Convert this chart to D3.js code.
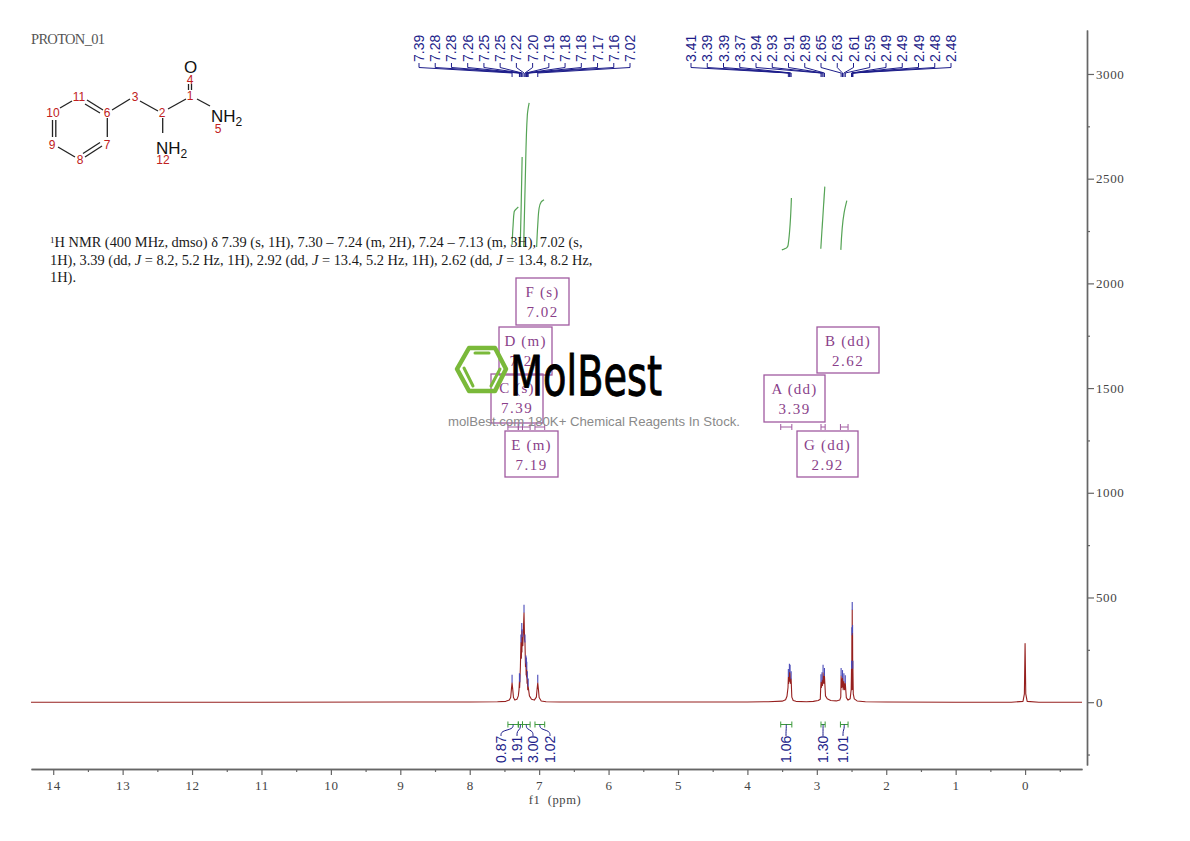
<!DOCTYPE html>
<html>
<head>
<meta charset="utf-8">
<title>PROTON_01</title>
<script src="https://cdn.jsdelivr.net/npm/d3@7"></script>
<style>
body { margin: 0; background: #fff; }
text { font-family: "Liberation Serif", serif; }
</style>
</head>
<body>
<div id="chart"></div>
<script>
// values
var xMajorTicks = [14,13,12,11,10,9,8,7,6,5,4,3,2,1,0];
var xMinorTicks = [13.5,12.5,11.5,10.5,9.5,8.5,7.5,6.5,5.5,4.5,3.5,2.5,1.5,0.5,-0.5];
var yMajorTicks = [0,500,1000,1500,2000,2500,3000];
var yMinorTicks = [-250,250,750,1250,1750,2250,2750];

var specPpm = [14.32,11,9,8,7.6,7.48,7.43,7.41,7.40,7.39,7.38,7.37,7.35,7.32,7.30,7.29,7.284,7.281,7.278,7.27,7.262,7.256,7.25,7.248,7.246,7.235,7.218,7.21,7.204,7.197,7.19,7.187,7.184,7.181,7.178,7.174,7.17,7.164,7.158,7.14,7.11,7.07,7.04,7.03,7.02,7.01,7.00,6.97,6.9,6.7,6,5,4,3.7,3.5,3.45,3.43,3.415,3.41,3.403,3.395,3.39,3.385,3.378,3.37,3.36,3.34,3.3,3.15,3.05,2.98,2.95,2.945,2.94,2.933,2.925,2.918,2.91,2.9,2.89,2.875,2.85,2.8,2.72,2.67,2.655,2.65,2.64,2.63,2.62,2.61,2.6,2.59,2.575,2.55,2.52,2.505,2.5,2.497,2.495,2.492,2.49,2.487,2.485,2.482,2.48,2.475,2.46,2.42,2.3,2,1,0.2,0.03,0.01,0.0,-0.01,-0.03,-0.2,-0.82];
var specInt = [0,0,1,1,2,4,10,22,60,93,60,22,10,14,30,60,100,70,95,170,285,210,340,240,310,270,427,300,285,170,185,130,175,120,155,90,110,60,75,30,14,10,24,62,93,60,22,6,2,1,1,1,1,2,5,12,28,70,120,90,145,100,140,90,110,24,8,4,2,4,8,14,60,95,70,105,80,140,90,125,30,16,8,6,10,24,125,70,115,60,100,60,90,22,10,16,60,160,60,320,100,440,100,330,60,160,40,16,6,2,1,0,0,4,40,280,40,4,0,0];

var pickGroupA = ["7.39","7.28","7.28","7.26","7.25","7.25","7.22","7.20","7.19","7.18","7.18","7.17","7.16","7.02"];
var pickPpmA = [7.39,7.284,7.278,7.262,7.25,7.246,7.218,7.204,7.19,7.184,7.178,7.17,7.158,7.02];
var pickIntA = [93,100,95,285,340,310,427,285,185,175,155,110,75,93];
var pickGroupB = ["3.41","3.39","3.39","3.37","2.94","2.93","2.91","2.89","2.65","2.63","2.61","2.59","2.49","2.49","2.49","2.48","2.48"];
var pickPpmB = [3.41,3.395,3.385,3.37,2.94,2.925,2.91,2.89,2.65,2.63,2.61,2.59,2.5,2.495,2.49,2.485,2.48];
var pickIntB = [120,145,140,110,95,105,140,125,125,115,100,90,160,320,440,330,160];

var integralCurves = [
  {ppm:[7.39,7.375,7.36,7.30], val:[2184,2279,2341,2365]},
  {ppm:[7.273,7.26,7.245], val:[2174,2351,2604]},
  {ppm:[7.223,7.20,7.17,7.144], val:[2174,2494,2804,2862]},
  {ppm:[7.036,7.02,7.0,6.97,6.93], val:[2174,2279,2360,2389,2399]},
  {ppm:[3.504,3.432,3.413,3.366], val:[2160,2171,2184,2408]},
  {ppm:[2.943,2.885], val:[2165,2462]},
  {ppm:[2.654,2.607,2.568], val:[2160,2337,2395]}
];
var integralFrom = [7.45,7.30,7.24,7.06,3.52,2.94,2.66];
var integralTo = [7.30,7.24,7.13,6.92,3.36,2.88,2.55];
var integralLabels = ["0.87","1.91","3.00","1.02","1.06","1.30","1.01"];

var multipletNames = ["F (s)","D (m)","C (s)","E (m)","B (dd)","A (dd)","G (dd)"];
var multipletShifts = ["7.02","7.27","7.39","7.19","2.62","3.39","2.92"];
var nmrLines = [
  [["1","sup"],["H NMR (400 MHz, dmso) δ 7.39 (s, 1H), 7.30 – 7.24 (m, 2H), 7.24 – 7.13 (m, 3H), 7.02 (s,",""]],
  [["1H), 3.39 (dd, ",""],["J","i"],[" = 8.2, 5.2 Hz, 1H), 2.92 (dd, ",""],["J","i"],[" = 13.4, 5.2 Hz, 1H), 2.62 (dd, ",""],["J","i"],[" = 13.4, 8.2 Hz,",""]],
  [["1H).",""]]
];

// layout of the annotation boxes and the molecule
var boxRects = [[516,278,53,47],[499,327,53,48],[491,374,52,49],[505,431,53,46],[817,327,62,46],[764,375,61,47],[797,431,61,46]];
var bonds = [[186,99,168,109],[197,99,210,106],[140,101,158,111],[130,99,112,110],[103,110,87,100],[100,113,85,104],[72,101,60,108],
  [52.5,120,52.5,137],[55.8,120,55.8,137],[58,147,75,157],[85,157,102,146],[83,153.5,100,142.5],[107.3,118,107.3,137],[162.7,118,162.7,133],
  [188.5,84,188.5,90],[191.5,84,191.5,90]];
var atomLabels = [["4",190,84],["1",190,100],["2",162,117],["3",135,101],["6",107,117],["11",79,101],["10",53,117],["9",52,149],["8",80,164],["7",107,149],["5",218,133],["12",163,164]];

var width = 1190, height = 841;
var svg = d3.select("#chart").append("svg").attr("width", width).attr("height", height).style("display","block");

var x = d3.scaleLinear().domain([14.32,-0.82]).range([31,1082]);
var y = d3.scaleLinear().domain([-300,3210]).range([765,30]);

// axes
function styleAxis(g, size) {
  g.selectAll("path").attr("stroke","#666").attr("stroke-width",1.4);
  g.selectAll("line").attr("stroke","#666").attr("stroke-width",1.2);
  g.selectAll("text").attr("fill","#444").style("font-family",'"Liberation Serif", serif').style("font-size",size+"px").style("letter-spacing","0.6px");
}
var xAxisG = svg.append("g").attr("transform","translate(0,769)")
  .call(d3.axisBottom(x).tickValues(xMajorTicks).tickFormat(d3.format("d")).tickSize(6).tickSizeOuter(0).tickPadding(6));
styleAxis(xAxisG, 13);
var xMinorG = svg.append("g").attr("transform","translate(0,769)")
  .call(d3.axisBottom(x).tickValues(xMinorTicks).tickFormat("").tickSize(3).tickSizeOuter(0));
styleAxis(xMinorG, 13);

var yAxisG = svg.append("g").attr("transform","translate(1087,0)")
  .call(d3.axisRight(y).tickValues(yMajorTicks).tickFormat(d3.format("d")).tickSize(7).tickSizeOuter(0).tickPadding(2));
styleAxis(yAxisG, 13);
var yMinorG = svg.append("g").attr("transform","translate(1087,0)")
  .call(d3.axisRight(y).tickValues(yMinorTicks).tickFormat("").tickSize(3).tickSizeOuter(0));
styleAxis(yMinorG, 13);

svg.append("text").attr("x",555).attr("y",804).attr("text-anchor","middle")
  .attr("fill","#444").style("font-size","12.5px").style("letter-spacing","0.6px").attr("xml:space","preserve").text("f1  (ppm)");

svg.append("text").attr("x",31).attr("y",44).attr("fill","#555")
  .style("font-size","14.5px").attr("textLength",74).attr("lengthAdjust","spacing").text("PROTON_01");

// spectrum
var specLine = d3.line().x(function(d){ return x(d[0]); }).y(function(d){ return y(d[1]); });
svg.append("path").datum(d3.zip(specPpm, specInt)).attr("d", specLine)
  .attr("fill","none").attr("stroke","#96201f").attr("stroke-width",1.1).attr("stroke-linejoin","round");

// peak pick marks and the label fans
function drawPicks(labels, ppms, ints, x0, x1) {
  var lx = d3.scalePoint().domain(d3.range(labels.length)).range([x0,x1]);
  var g = svg.append("g");
  g.selectAll("line.mark").data(ppms).enter().append("line").attr("class","mark")
    .attr("x1",function(d){ return x(d); }).attr("x2",function(d){ return x(d); })
    .attr("y1",function(d,i){ return y(ints[i]); }).attr("y2",function(d,i){ return y(ints[i])-8; })
    .attr("stroke","#4a4ab8").attr("stroke-width",1.1);
  g.selectAll("path.fan").data(ppms).enter().append("path").attr("class","fan")
    .attr("d",function(d,i){
      return d3.line()([[lx(i),63],[lx(i),67.5],[x(d),73],[x(d),77]]);
    }).attr("fill","none").attr("stroke","#1d1d8a").attr("stroke-width",1);
  g.selectAll("text").data(labels).enter().append("text")
    .attr("transform",function(d,i){ return "translate("+(lx(i)+5)+",62) rotate(-90)"; })
    .attr("fill","#1d1d8a").style("font-family",'"Liberation Sans", sans-serif').style("font-size","14px").text(function(d){ return d; });
}
drawPicks(pickGroupA, pickPpmA, pickIntA, 419, 630);
drawPicks(pickGroupB, pickPpmB, pickIntB, 691, 951);

// integral curves
var curveLine = d3.line().x(function(d){ return x(d[0]); }).y(function(d){ return y(d[1]); }).curve(d3.curveMonotoneY);
integralCurves.forEach(function(c){
  svg.append("path").datum(d3.zip(c.ppm, c.val)).attr("d", curveLine)
    .attr("fill","none").attr("stroke","#55a355").attr("stroke-width",1.2);
});

// integral ranges under the baseline
var rangeG = svg.append("g");
function hBar(g, yy, h, color) {
  integralFrom.forEach(function(from,i){
    var a = x(from), b = x(integralTo[i]);
    g.append("path").attr("d","M"+a+","+(yy-h)+"V"+(yy+h)+"M"+a+","+yy+"H"+b+"M"+b+","+(yy-h)+"V"+(yy+h))
      .attr("fill","none").attr("stroke",color).attr("stroke-width",1);
  });
}
hBar(rangeG, 724.5, 3, "#3d9a3d");
var intLabelX = [501,517,533,550,786,823,843];
integralLabels.forEach(function(t,i){
  var c = (x(integralFrom[i])+x(integralTo[i]))/2, lx = intLabelX[i];
  rangeG.append("path").attr("d", d3.line().curve(d3.curveBasis)([[c,724.5],[c,729],[lx,731],[lx,736]]))
    .attr("fill","none").attr("stroke","#1d1d8a").attr("stroke-width",1);
  rangeG.append("text").attr("transform","translate("+(lx+5)+",763) rotate(-90)")
    .attr("fill","#1d1d8a").style("font-family",'"Liberation Sans", sans-serif').style("font-size","14px").text(t);
});

// multiplet boxes
var boxG = svg.append("g");
hBar(boxG, 427, 3, "#a05aa0");
multipletNames.forEach(function(n,i){
  var r = boxRects[i];
  boxG.append("rect").attr("x",r[0]).attr("y",r[1]).attr("width",r[2]).attr("height",r[3])
    .attr("fill","none").attr("stroke","#a05aa0").attr("stroke-width",1.3);
  boxG.append("text").attr("x",r[0]+r[2]/2).attr("y",r[1]+19).attr("text-anchor","middle")
    .attr("fill","#8a3f8a").style("font-size","15px").style("letter-spacing","1.2px").text(n);
  boxG.append("text").attr("x",r[0]+r[2]/2).attr("y",r[1]+39).attr("text-anchor","middle")
    .attr("fill","#8a3f8a").style("font-size","15px").style("letter-spacing","1.5px").text(multipletShifts[i]);
});

// assignment text
nmrLines.forEach(function(parts,i){
  var t = svg.append("text").attr("x",50).attr("y",247+i*17.5).attr("fill","#1a1a1a").style("font-size","14.4px");
  parts.forEach(function(p){
    var s = t.append("tspan").text(p[0]);
    if (p[1]=="sup") s.attr("dy",-4).style("font-size","9px");
    if (p[1]=="i") s.style("font-style","italic");
    if (p[0].indexOf("H NMR")==0) s.attr("dy",4);
  });
});

// molecule
var mol = svg.append("g");
mol.selectAll("line").data(bonds).enter().append("line")
  .attr("x1",function(d){return d[0];}).attr("y1",function(d){return d[1];})
  .attr("x2",function(d){return d[2];}).attr("y2",function(d){return d[3];})
  .attr("stroke","#222").attr("stroke-width",1.3);
mol.selectAll("text.num").data(atomLabels).enter().append("text").attr("class","num")
  .attr("x",function(d){return d[1];}).attr("y",function(d){return d[2];}).attr("text-anchor","middle")
  .attr("fill","#c02020").style("font-family",'"Liberation Sans", sans-serif').style("font-size","12px").text(function(d){return d[0];});
function chem(xx,yy,main,sub) {
  var t = mol.append("text").attr("x",xx).attr("y",yy).attr("fill","#111")
    .style("font-family",'"Liberation Sans", sans-serif').style("font-size","17px").text(main);
  if (sub) t.append("tspan").attr("dy",4).style("font-size","12px").text(sub);
}
chem(184,73,"O");
chem(211,122,"NH","2");
chem(156,154,"NH","2");

// watermark
var mark = svg.append("g").attr("fill","none").attr("stroke","#7ab93a").attr("stroke-linecap","round");
mark.append("path").attr("d","M469,348L495,348L506,369L495,391L469,391L457,369Z").attr("stroke-width",4.5).attr("stroke-linejoin","round");
mark.append("path").attr("d","M475,353H489M464,368L473,386M500,369L491,386").attr("stroke-width",3);
svg.append("text").attr("transform","translate(510,395) scale(1,1.25)")
  .attr("fill","#000").style("font-family",'"DejaVu Sans", sans-serif').style("font-size","44px").style("font-weight","400")
  .attr("textLength",152).attr("lengthAdjust","spacingAndGlyphs").attr("stroke","#000").attr("stroke-width",0.8).text("MolBest");
svg.append("text").attr("x",448).attr("y",426).attr("fill","#8a8a8a")
  .style("font-family",'"Liberation Sans", sans-serif').style("font-size","13px")
  .attr("textLength",292).attr("lengthAdjust","spacingAndGlyphs").text("molBest.com 180K+ Chemical Reagents In Stock.");
</script>
</body>
</html>
